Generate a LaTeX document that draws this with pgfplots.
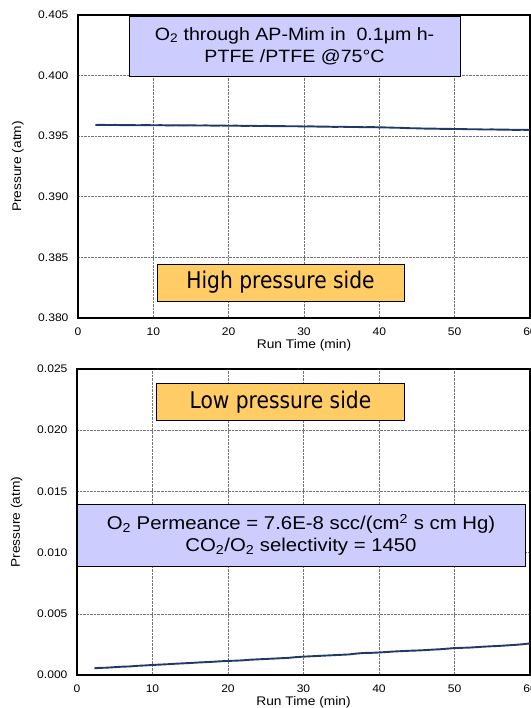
\documentclass[border=0pt]{standalone}
\usepackage{fontspec}
\setmainfont[FakeStretch=1.1]{Liberation Sans}
\newfontfamily\tahoma[FakeStretch=0.88]{DejaVu Sans}
\usepackage{pgfplots}
\pgfplotsset{compat=1.18}
\definecolor{boxblue}{HTML}{CCCCFF}
\definecolor{boxorange}{HTML}{FFCC66}
\definecolor{navy}{HTML}{1F3A66}

\tikzset{tag/.style={draw=black, line width=0.8bp, inner sep=0pt, align=center}}
\pgfplotsset{
  pchart/.style={
    scale only axis,
    xmin=0, xmax=60,
    xtick={0,10,...,60},
    grid=major,
    grid style={densely dotted, gray!90!black, line width=0.6bp},
    axis line style={line width=1.1bp},
    major tick length=0pt,
    tick label style={font=\fontsize{11bp}{12bp}\selectfont},
    /pgf/number format/assume math mode=true,
    xticklabel style={anchor=center, yshift=-14bp},
    yticklabel style={anchor=east, xshift=-6bp,
      /pgf/number format/fixed, /pgf/number format/fixed zerofill,
      /pgf/number format/precision=3},
    scaled y ticks=false,
    every axis x label/.style={at={(axis description cs:0.5,0)}, anchor=center, yshift=-27.5bp,
      font=\fontsize{12.5bp}{14bp}\selectfont},
    every axis y label/.style={at={(axis description cs:-0.133,0.5)}, anchor=center, rotate=90,
      font=\fontsize{12.5bp}{14bp}\selectfont},
    xlabel={Run Time (min)},
    ylabel={Pressure (atm)},
  },
}

\begin{document}
\begin{tikzpicture}
% high pressure side
\begin{axis}[pchart, at={(1bp,357bp)}, anchor=south west,
  width=452bp, height=303bp,
  ymin=0.380, ymax=0.405, ytick={0.380,0.385,...,0.405}]
\addplot[navy, line width=1.9bp] coordinates {
(2.3,0.39592) (3,0.39594) (4,0.39592) (5,0.39593) (6,0.39591) (7,0.39592) (8,0.39590)
(9,0.39592) (10,0.39590) (11,0.39591) (12,0.39589) (13,0.39590) (14,0.39589) (15,0.39590)
(16,0.39588) (17,0.39589) (18,0.39587) (19,0.39588) (20,0.39586) (21,0.39587) (22,0.39585)
(23,0.39586) (24,0.39584) (25,0.39585) (26,0.39583) (27,0.39583) (28,0.39582) (29,0.39582)
(30,0.39580) (31,0.39581) (32,0.39579) (33,0.39579) (34,0.39577) (35,0.39578) (36,0.39576)
(37,0.39576) (38,0.39574) (39,0.39575) (40,0.39573) (41,0.39572) (42,0.39570) (43,0.39569)
(44,0.39566) (45,0.39565) (46,0.39563) (47,0.39563) (48,0.39561) (49,0.39561) (50,0.39559)
(51,0.39559) (52,0.39557) (53,0.39557) (54,0.39555) (55,0.39556) (56,0.39554) (57,0.39554)
(58,0.39552) (59,0.39553) (60,0.39551)
};
\node[tag, fill=boxblue, minimum width=331bp, minimum height=60bp,
  font=\fontsize{17.8bp}{22bp}\selectfont]
  at (rel axis cs:0.479,0.898)
  {O\textsubscript{2} through AP-Mim in\ \ 0.1μm h-\\PTFE /PTFE @75°C};
\node[tag, fill=boxorange, minimum width=247bp, minimum height=37bp,
  font=\tahoma\fontsize{23bp}{26bp}\selectfont]
  at (rel axis cs:0.448,0.117) {High pressure side};
\end{axis}

% low pressure side
\begin{axis}[pchart, at={(0,0)}, anchor=south west,
  width=453bp, height=306bp,
  ymin=0, ymax=0.025, ytick={0,0.005,...,0.025}]
\addplot[navy, line width=1.9bp] coordinates {
(2.3,0.00055) (3,0.00058) (4,0.00060) (5,0.00064) (6,0.00068) (7,0.00070) (8,0.00075)
(9,0.00078) (10,0.00082) (11,0.00085) (12,0.00088) (13,0.00092) (14,0.00095) (15,0.00098)
(16,0.00102) (17,0.00105) (18,0.00108) (19,0.00112) (20,0.00115) (21,0.00117) (22,0.00120)
(23,0.00125) (24,0.00128) (25,0.00131) (26,0.00134) (27,0.00137) (28,0.00140) (29,0.00146)
(30,0.00150) (31,0.00153) (32,0.00156) (33,0.00159) (34,0.00162) (35,0.00165) (36,0.00168)
(37,0.00175) (38,0.00180) (39,0.00181) (40,0.00184) (41,0.00188) (42,0.00192) (43,0.00195)
(44,0.00198) (45,0.00200) (46,0.00203) (47,0.00207) (48,0.00210) (49,0.00215) (50,0.00220)
(51,0.00222) (52,0.00224) (53,0.00228) (54,0.00232) (55,0.00235) (56,0.00238) (57,0.00242)
(58,0.00246) (59,0.00251) (60,0.00258)
};
\node[tag, fill=boxorange, minimum width=247bp, minimum height=37bp,
  font=\tahoma\fontsize{23bp}{26bp}\selectfont]
  at (rel axis cs:0.449,0.891) {Low pressure side};
\node[tag, fill=boxblue, minimum width=448bp, minimum height=62bp,
  font=\fontsize{18.5bp}{22bp}\selectfont]
  at (rel axis cs:0.4945,0.4575)
  {O\textsubscript{2} Permeance = 7.6E-8 scc/(cm\textsuperscript{2} s cm Hg)\\CO\textsubscript{2}/O\textsubscript{2} selectivity = 1450};
\end{axis}

\pgfresetboundingbox
\path (-77bp,-33bp) rectangle (454bp,675bp);
\end{tikzpicture}
\end{document}
